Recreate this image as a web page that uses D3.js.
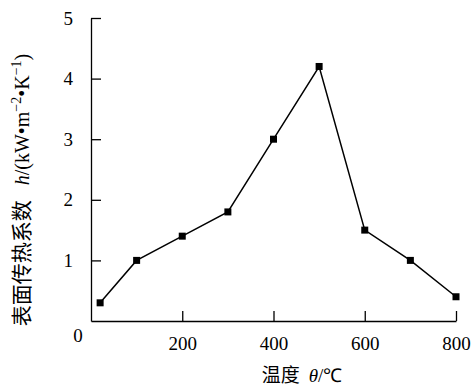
<!DOCTYPE html>
<html>
<head>
<meta charset="utf-8">
<script src="https://cdn.jsdelivr.net/npm/d3@7"></script>
<style>
	body { margin: 0; background: #fff; }
	text { font-family: "Liberation Serif", "Times New Roman", serif; fill: #000; }
	.cjk { font-family: "Noto Sans CJK SC", sans-serif; }
</style>
</head>
<body>
<div id="chart"></div>
<script>
// temperature (°C) and heat transfer coefficient h (kW·m^-2·K^-1)
const temps = [20, 100, 200, 300, 400, 500, 600, 700, 800];
const hValues = [0.3, 1.0, 1.4, 1.8, 3.0, 4.2, 1.5, 1.0, 0.4];
const xTicks = [200, 400, 600, 800];
const yTicks = [1, 2, 3, 4, 5];

const width = 472, height = 388;
const margin = { left: 91, right: 16, top: 18, bottom: 67 };

const svg = d3.select("#chart")
	.append("svg")
	.attr("width", width)
	.attr("height", height);

const x = d3.scaleLinear().domain([0, 800]).range([margin.left, width - margin.right]);
const y = d3.scaleLinear().domain([0, 5]).range([height - margin.bottom, margin.top]);

// x axis, ticks pointing up
const xAxis = svg.append("g")
	.attr("transform", "translate(0," + y(0) + ")")
	.call(d3.axisBottom(x).tickValues(xTicks).tickFormat(d3.format("d")).tickSizeInner(-10).tickSizeOuter(0).tickPadding(16));

// y axis, ticks pointing right
const yAxis = svg.append("g")
	.attr("transform", "translate(" + x(0) + ",0)")
	.call(d3.axisLeft(y).tickValues(yTicks).tickFormat(d3.format("d")).tickSizeInner(-10).tickSizeOuter(0).tickPadding(18));

for (let g of [xAxis, yAxis]) {
	g.select(".domain").attr("stroke", "#000").attr("stroke-width", 1.3);
	g.selectAll(".tick line").attr("stroke", "#000").attr("stroke-width", 1.3);
	g.selectAll(".tick text")
		.attr("font-size", 19)
		.attr("font-family", "Liberation Serif, serif")
		.attr("fill", "#000");
}

// shared origin label
svg.append("text")
	.attr("x", x(0) - 13)
	.attr("y", y(0) + 21)
	.attr("text-anchor", "middle")
	.attr("font-size", 19)
	.text("0");

const line = d3.line()
	.x((d, i) => x(temps[i]))
	.y(d => y(d));

svg.append("path")
	.datum(hValues)
	.attr("fill", "none")
	.attr("stroke", "#000")
	.attr("stroke-width", 1.5)
	.attr("d", line);

svg.selectAll("rect.pt")
	.data(hValues)
	.enter()
	.append("rect")
	.attr("class", "pt")
	.attr("x", (d, i) => x(temps[i]) - 3.5)
	.attr("y", d => y(d) - 3.5)
	.attr("width", 7)
	.attr("height", 7)
	.attr("fill", "#000");

// x title
const xt = svg.append("text")
	.attr("x", 302)
	.attr("y", 382)
	.attr("text-anchor", "middle")
	.attr("font-size", 19);
xt.append("tspan").attr("class", "cjk").text("温度 ");
xt.append("tspan").attr("font-style", "italic").text("\u00a0θ");
xt.append("tspan").text("/℃");

// y title
const yt = svg.append("text")
	.attr("transform", "translate(29,190) rotate(-90)")
	.attr("text-anchor", "middle")
	.attr("font-size", 20);
yt.append("tspan").attr("class", "cjk").attr("font-size", 21).text("表面传热系数");
yt.append("tspan").attr("font-style", "italic").text("\u00a0\u00a0\u00a0h");
yt.append("tspan").text("/(kW•m");
yt.append("tspan").attr("font-size", 14).attr("dy", -8).text("−2");
yt.append("tspan").attr("dy", 8).text("•K");
yt.append("tspan").attr("font-size", 14).attr("dy", -8).text("−1");
yt.append("tspan").attr("dy", 8).text(")");
</script>
</body>
</html>
